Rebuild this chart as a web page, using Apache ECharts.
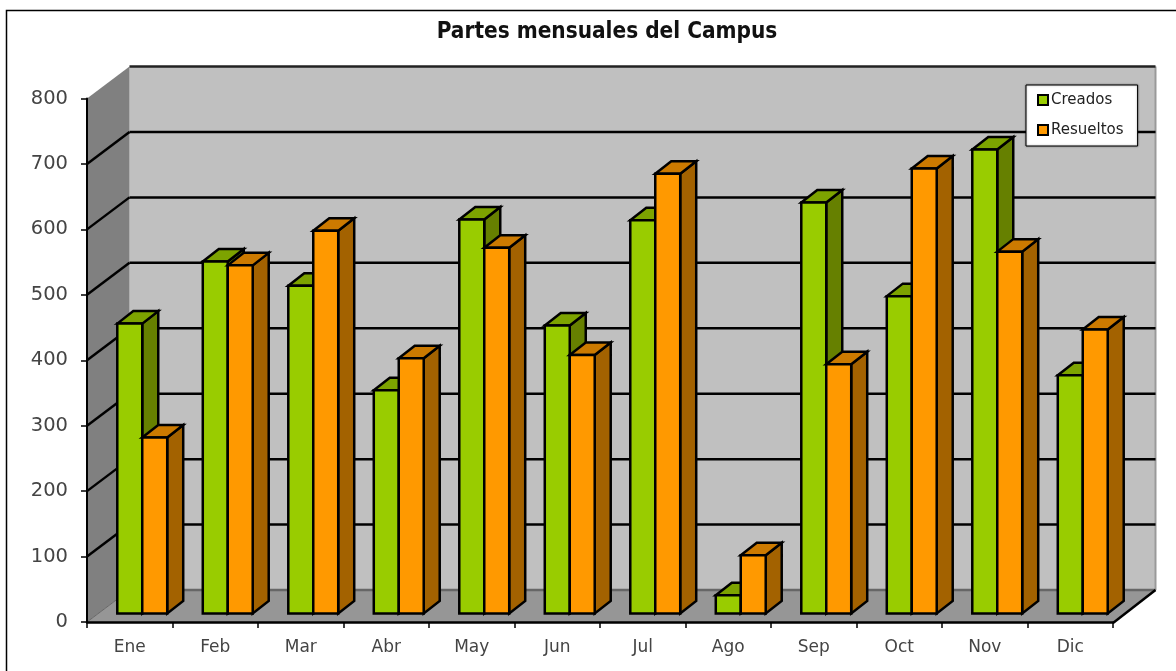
<!DOCTYPE html>
<html><head><meta charset="utf-8">
<style>html,body{margin:0;padding:0;background:#fff}#c{width:1176px;height:671px}</style>
<script src="https://cdn.jsdelivr.net/npm/echarts@6/dist/echarts.min.js"></script>
</head><body><div id="c"></div>
<script>
const months = ['Ene','Feb','Mar','Abr','May','Jun','Jul','Ago','Sep','Oct','Nov','Dic'];
const creados = [443,538,501,341,602,440,601,28,628,485,709,364];
const resueltos = [269,532,585,390,559,395,672,89,381,680,553,434];
const yTicks = [0,100,200,300,400,500,600,700,800];

const WALL_DX = 42.5, WALL_DY = -32;      // back wall offset from front plane
const BAR_DX = 12.5, BAR_DY = -8.5;       // bar front face offset from front plane
const DEPTH_DX = 16, DEPTH_DY = -12.5;    // bar depth
const BAR_FRAC = 25 / 85.6;               // single bar width as share of a category

const chart = echarts.init(document.getElementById('c'));

function polyShape(points, fill, stroke, lw) {
  return {type:'polygon', shape:{points}, style:{fill, stroke: stroke || null, lineWidth: lw || 0, lineJoin:'miter'}, silent:true};
}
function line(a, b, stroke, lw) {
  return {type:'line', shape:{x1:a[0],y1:a[1],x2:b[0],y2:b[1]}, style:{stroke, lineWidth:lw, fill:null}, silent:true};
}

function renderWalls(params, api) {
  const v = api.value(0);
  const n = months.length;
  const lx = api.coord([0,0])[0] - api.size([1,0])[0]/2;
  const rx = lx + n*api.size([1,0])[0];
  const y = api.coord([0,v])[1];
  const children = [];
  if (params.dataIndex === 0) {
    const y0 = api.coord([0,0])[1], yTop = api.coord([0,800])[1];
    children.push(polyShape([[lx+WALL_DX,yTop+WALL_DY],[rx+WALL_DX,yTop+WALL_DY],[rx+WALL_DX,y0+WALL_DY],[lx+WALL_DX,y0+WALL_DY]],'#c0c0c0'));
    children.push(polyShape([[lx,yTop],[lx+WALL_DX,yTop+WALL_DY],[lx+WALL_DX,y0+WALL_DY],[lx,y0]],'#808080'));
    children.push(polyShape([[lx,y0],[rx,y0],[rx+WALL_DX,y0+WALL_DY],[lx+WALL_DX,y0+WALL_DY]],'#969696'));
    children.push(line([rx+WALL_DX,yTop+WALL_DY],[rx+WALL_DX,y0+WALL_DY],'#999',2));
    children.push(line([lx,y0],[lx+WALL_DX,y0+WALL_DY],'#666',1));
    children.push(line([lx+WALL_DX,y0+WALL_DY],[rx+WALL_DX,y0+WALL_DY],'#666',2.5));
    children.push(line([rx,y0+1],[rx+WALL_DX,y0+WALL_DY],'#000',2.5));
  } else if (v === 800) {
    children.push(line([lx+WALL_DX,y+WALL_DY],[rx+WALL_DX,y+WALL_DY],'#222',2.5));
  } else {
    children.push(line([lx,y],[lx+WALL_DX,y+WALL_DY],'#000',2.5));
    children.push(line([lx+WALL_DX,y+WALL_DY],[rx+WALL_DX,y+WALL_DY],'#000',2.5));
  }
  return {type:'group', children};
}

function barRenderer(slot, front, top, side) {
  return function (params, api) {
    const cat = api.value(0), val = api.value(1);
    const p = api.coord([cat,val]), b = api.coord([cat,0]);
    const w = api.size([1,0])[0]*BAR_FRAC;
    const x0 = p[0]+BAR_DX+slot*w, x1 = x0+w;
    const yT = p[1]+BAR_DY, yB = b[1]+BAR_DY;
    const s = '#000', lw = 2.5;
    return {type:'group', children:[
      polyShape([[x1,yT],[x1+DEPTH_DX,yT+DEPTH_DY],[x1+DEPTH_DX,yB+DEPTH_DY],[x1,yB]],side,s,lw),
      polyShape([[x0,yT],[x0+DEPTH_DX,yT+DEPTH_DY],[x1+DEPTH_DX,yT+DEPTH_DY],[x1,yT]],top,s,lw),
      polyShape([[x0,yT],[x1,yT],[x1,yB],[x0,yB]],front,s,lw)
    ]};
  };
}

const labelFont = '"DejaVu Sans", sans-serif';
chart.setOption({
  animation:false,
  backgroundColor:'#fff',
  title:{text:'Partes mensuales del Campus', left:602, top:16, textAlign:'center',
    textStyle:{fontFamily:'"DejaVu Sans Condensed", "DejaVu Sans", sans-serif', fontSize:22.4, fontWeight:'bold', color:'#111'}},
  legend:{orient:'vertical', left:1026, top:85, padding:[7.5,14,8.5,11], itemGap:15, itemWidth:10, itemHeight:10,
    backgroundColor:'#fff', borderColor:'#000', borderWidth:1, icon:'rect',
    shadowColor:'rgba(0,0,0,0.4)', shadowBlur:2,
    textStyle:{fontFamily:labelFont, fontSize:15, lineHeight:10, height:10, color:'#222', padding:[0,0,0,-2]},
    data:['Creados','Resueltos']},
  grid:{left:87, top:98.5, width:1026, height:523.5, containLabel:false},
  xAxis:{type:'category', data:months, boundaryGap:true, z:5,
    axisLine:{show:true, onZero:false, lineStyle:{color:'#000', width:2.5}},
    axisTick:{show:true, alignWithLabel:false, length:6, lineStyle:{color:'#000', width:1.5}},
    axisLabel:{fontFamily:labelFont, fontSize:17, color:'#444', margin:17, interval:0},
    splitLine:{show:false}},
  yAxis:{type:'value', min:0, max:800, interval:100, z:5,
    axisLine:{show:true, lineStyle:{color:'#000', width:2}},
    axisTick:{show:true, length:6, lineStyle:{color:'#000', width:1.5}},
    axisLabel:{fontFamily:labelFont, fontSize:19.5, color:'#444', margin:19},
    splitLine:{show:false}},
  series:[
    {type:'custom', name:'walls', renderItem:renderWalls, data:yTicks.map(v=>[v]), encode:{y:0}, silent:true, z:1, clip:false, legendHoverLink:false},
    {type:'custom', name:'Creados', renderItem:barRenderer(-1,'#99cc00','#7da300','#668000'),
      data:creados.map((v,i)=>[i,v]), encode:{x:0,y:1}, itemStyle:{color:'#99cc00',borderColor:'#000',borderWidth:2}, z:6, clip:false},
    {type:'custom', name:'Resueltos', renderItem:barRenderer(0,'#ff9900','#cc7a00','#a36200'),
      data:resueltos.map((v,i)=>[i,v]), encode:{x:0,y:1}, itemStyle:{color:'#ff9900',borderColor:'#000',borderWidth:2}, z:7, clip:false}
  ],
  graphic:[
    {type:'polyline', shape:{points:[[6.5,671],[6.5,10.5],[1176,10.5]]}, style:{stroke:'#000', lineWidth:1.5, fill:null}, silent:true}
  ]
});
</script></body></html>
